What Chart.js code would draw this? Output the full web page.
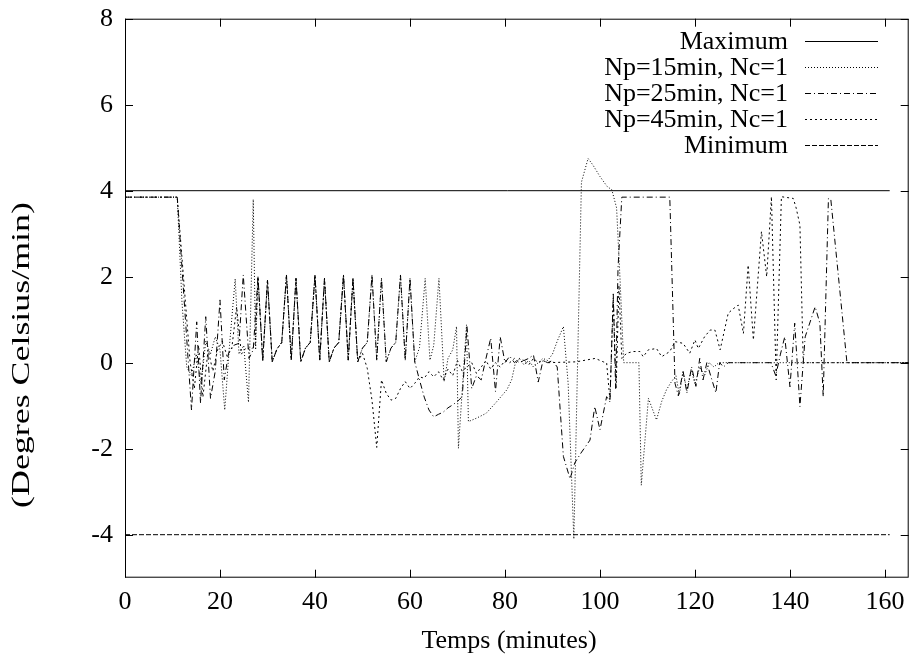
<!DOCTYPE html>
<html><head><meta charset="utf-8">
<script src="https://cdn.jsdelivr.net/npm/chart.js@4.4.1/dist/chart.umd.min.js"></script>
<style>html,body{margin:0;padding:0;background:#fff;}</style>
</head><body>
<canvas id="c" width="910" height="662"></canvas>
<script>
const xTicks = [0,20,40,60,80,100,120,140,160];
const yTicks = [-4,-2,0,2,4,6,8];
const labels = ["Maximum","Np=15min, Nc=1","Np=25min, Nc=1","Np=45min, Nc=1","Minimum"];
const xTitle = "Temps (minutes)";
const yTitle = "(Degres Celsius/min)";

const maxT = [0,161];
const maxV = [4,4];
const minT = [0,161];
const minV = [-4,-4];

const np15T = [0,11,12,13,14,15,16,17,18,19,20,21,22,23.2,24,25,26,27,27.5,28,29,30,31,32,33,34,35,36,37,38,39,40,41,42,43,44,45,46,47,48,49,50,51,52,53,54,55,56,57,58,59,60,61,62,63.2,64.2,65,66.1,67.2,68,69,69.8,70.2,71.9,72.3,74,76,78,80.4,81.4,82.1,83,84,85,86,87,88,89,90,91,92.3,93.3,94.5,96.1,97.5,98.5,100,101.5,102.5,103.5,104.2,105,108.2,108.7,110.2,111.9,113,114,115,116,116.7,117.5,118.3,119.2,120,121,122,123,124,125,165];
const np15V = [3.85,3.85,1.4,-0.1,-0.3,0.2,-0.5,0.5,0.2,0.6,0.3,-1.1,0.4,1.95,0.2,0.4,-0.92,3.8,0.3,2.0,0.05,1.92,0.02,0.32,0.47,2.04,0.06,1.96,0.02,0.34,0.47,2.04,0.06,1.96,0.02,0.34,0.47,2.04,0.06,1.96,0.02,0.34,0.47,2.04,0.06,1.96,0.02,0.34,0.47,2.04,0.06,1.96,0.02,0.35,1.96,0.06,0.4,1.96,-0.44,0.1,0.3,0.84,-1.99,0.88,-1.37,-1.29,-1.18,-0.94,-0.63,-0.4,-0.05,0.1,-0.05,0.05,-0.1,0.0,0.1,0.05,0.2,0.5,0.84,-0.48,-4.1,4.2,4.75,4.6,4.33,4.1,4.02,3.6,2.0,0.0,0.0,-2.85,-0.83,-1.33,-0.9,-0.63,-0.45,-0.3,-0.75,-0.2,-0.65,-0.15,-0.5,-0.1,-0.3,0.0,-0.1,0.0,0.0];

const np25T = [0,11,14,15.1,15.9,17,18,19,20,20.9,21.8,23,24,24.9,26.1,27,28,29,30,31,32,33,34,35,36,37,38,39,40,41,42,43,44,45,46,47,48,49,50,51,52,53,54,55,56,57,58,59,60,61,62,63,64,65,66,67,68,69,70,71,72,73,74,75,76,77,78,79,80,81,82,83,84,85,86,87,88,89,90,91,92.3,93.7,94.7,96,97.9,98.9,100,101.4,102.1,102.8,103.3,103.8,104.6,114.7,115.8,116.5,117.5,118.3,119.3,120.2,121,121.7,122.5,123.3,124.4,125.2,126,127,136,137,138,138.9,140,141,142.1,143.2,145.3,146.3,147,148.1,148.6,152,165];
const np25V = [3.85,3.85,-1.1,0.95,-0.94,1.07,-0.83,-0.2,1.46,-0.4,0.22,0.41,0.45,2.04,0.1,0.3,2.0,0.05,1.92,0.02,0.32,0.47,2.04,0.06,1.96,0.02,0.34,0.47,2.04,0.06,1.96,0.02,0.34,0.47,2.04,0.06,1.96,0.02,0.34,0.47,2.04,0.06,1.96,0.02,0.34,0.47,2.04,0.06,1.96,0.02,-0.4,-0.8,-1.1,-1.26,-1.2,-1.15,-1.05,-0.98,-0.9,-0.79,0.85,-0.6,-0.3,-0.4,0.1,0.57,-0.67,0.6,0.0,0.15,0.0,0.1,0.05,0.1,0.18,-0.45,0.05,0.0,0.05,-0.1,-2.18,-2.7,-2.33,-2.1,-1.8,-1.02,-1.56,-0.79,-0.91,1.6,-0.6,2.2,3.85,3.85,-0.48,-0.77,-0.2,-0.7,-0.1,-0.55,0.1,-0.4,0.0,-0.3,-0.7,0.0,-0.1,0.0,0.0,-0.3,0.2,0.6,-0.56,0.92,-1.02,0.6,1.3,0.92,-0.79,3.82,3.8,0.0,0.0];

const np45T = [0,11,13.7,14.6,15.5,16.4,17.5,18.5,19.5,20.5,21.5,22.5,23.5,24.5,25.5,26.5,27.4,28,29,30,31,32,33,34,35,36,37,38,39,40,41,42,43,44,45,46,47,48,49,50,51,52,53,54,55,56,57,58,59,60,61,62,63,64,65,66,67,68,69,70,71,72,73,74,75,76,77,78,79,80,81,82,83,84,85,86,87,88,89,95,99,100.7,101.4,102.1,102.8,103.4,104,104.6,105.6,107,108.4,109.1,110.2,111.9,113,114.7,115.8,117.5,118.9,120,120.7,122,123.2,124.2,125.3,127,128,129.1,130.2,131.2,132.3,134,135.1,136.1,137.1,138.2,140.7,141.3,142.1,142.8,165];
const np45V = [3.85,3.85,0.02,-0.6,0.4,-0.8,0.3,-0.2,0.3,0.5,0.15,0.35,1.3,0.2,0.35,0.3,0.4,2.0,0.05,1.92,0.02,0.32,0.47,2.04,0.06,1.96,0.02,0.34,0.47,2.04,0.06,1.96,0.02,0.34,0.47,2.04,0.06,1.96,0.02,0.22,-0.13,-0.87,-1.97,-0.4,-0.71,-0.87,-0.83,-0.6,-0.44,-0.6,-0.48,-0.33,-0.36,-0.21,-0.33,-0.21,-0.4,-0.15,-0.3,0.05,-0.2,-0.1,0.0,-0.25,-0.1,0.05,-0.15,0.0,-0.1,0.05,0.0,0.1,0.0,0.05,-0.05,0.1,0.0,0.05,0.0,0.02,0.1,0.02,0.0,-0.87,1.5,-0.6,1.8,0.1,0.22,0.26,0.26,0.14,0.3,0.33,0.14,0.26,0.49,0.45,0.22,0.53,0.33,0.6,0.76,0.76,0.3,1.15,1.25,1.34,0.68,2.27,0.53,3.05,2.0,3.86,-0.4,3.86,3.82,3.6,3.2,0.0,0.0];

const FONT = "'Liberation Serif', 'Times New Roman', serif";
const FS = 26;
const pts = (t, v) => t.map((x, i) => ({x: x, y: v[i]}));

const dashes = [[], [1,2], [6,3,1,3], [2,3], [5,2]];

const frame = {
  id: 'frame',
  afterDraw(chart) {
    const ctx = chart.ctx, a = chart.chartArea;
    const xs = chart.scales.x, ys = chart.scales.y;
    ctx.save();
    ctx.strokeStyle = '#000';
    ctx.lineWidth = 1;
    ctx.setLineDash([]);
    ctx.strokeRect(a.left + 0.5, a.top + 0.5, a.right - a.left - 1, a.bottom - a.top - 1);
    ctx.beginPath();
    xTicks.forEach(v => {
      const p = Math.round(xs.getPixelForValue(v)) + 0.5;
      ctx.moveTo(p, a.bottom); ctx.lineTo(p, a.bottom - 8);
      ctx.moveTo(p, a.top); ctx.lineTo(p, a.top + 8);
    });
    yTicks.forEach(v => {
      const p = Math.round(ys.getPixelForValue(v)) + 0.5;
      ctx.moveTo(a.left, p); ctx.lineTo(a.left + 8, p);
      ctx.moveTo(a.right, p); ctx.lineTo(a.right - 8, p);
    });
    ctx.stroke();
    // legend
    ctx.font = FS + "px " + FONT;
    ctx.fillStyle = '#000';
    ctx.textAlign = 'right';
    ctx.textBaseline = 'middle';
    const rows = [41, 67, 93, 119, 145];
    chart.data.datasets.forEach((ds, i) => {
      const y = rows[i];
      ctx.fillText(ds.label, 788, y + 1);
      ctx.beginPath();
      ctx.setLineDash(ds.borderDash || []);
      ctx.moveTo(805, y + 0.5); ctx.lineTo(878, y + 0.5);
      ctx.stroke();
    });
    ctx.setLineDash([]);
    // axis titles
    ctx.textAlign = 'center';
    ctx.fillText(xTitle, 509, 641);
    ctx.translate(22, 355);
    ctx.rotate(-Math.PI / 2);
    ctx.scale(1.38, 1);
    ctx.fillText(yTitle, 0, 0);
    ctx.restore();
  }
};

const mk = (label, t, v, i) => ({
  label: label, data: pts(t, v), borderColor: '#000', borderWidth: 1,
  borderDash: dashes[i], pointRadius: 0, tension: 0, fill: false
});

new Chart(document.getElementById('c'), {
  type: 'line',
  data: {
    datasets: [
      mk(labels[0], maxT, maxV, 0),
      mk(labels[1], np15T, np15V, 1),
      mk(labels[2], np25T, np25V, 2),
      mk(labels[3], np45T, np45V, 3),
      mk(labels[4], minT, minV, 4)
    ]
  },
  options: {
    responsive: false,
    animation: false,
    devicePixelRatio: 1,
    layout: { padding: { top: 18.7, right: 1.3, left: 0, bottom: 0 } },
    plugins: { legend: { display: false }, tooltip: { enabled: false } },
    scales: {
      x: {
        type: 'linear', min: 0, max: 165,
        afterBuildTicks: s => { s.ticks = xTicks.map(v => ({value: v})); },
        afterFit: s => { s.height = 662 - 577.7; s.paddingLeft = 0; s.paddingRight = 0; },
        grid: { display: false, drawTicks: false },
        border: { display: false },
        ticks: { color: '#000', padding: 9, maxRotation: 0, autoSkip: false,
                 font: { family: FONT, size: FS }, callback: v => String(v) }
      },
      y: {
        type: 'linear', min: -5, max: 8,
        afterBuildTicks: s => { s.ticks = yTicks.map(v => ({value: v})); },
        afterFit: s => { s.width = 125; s.paddingTop = 0; s.paddingBottom = 0; },
        grid: { display: false, drawTicks: false },
        border: { display: false },
        ticks: { color: '#000', padding: 12, autoSkip: false,
                 font: { family: FONT, size: FS }, callback: v => String(v) }
      }
    }
  },
  plugins: [frame]
});
</script>
</body></html>
